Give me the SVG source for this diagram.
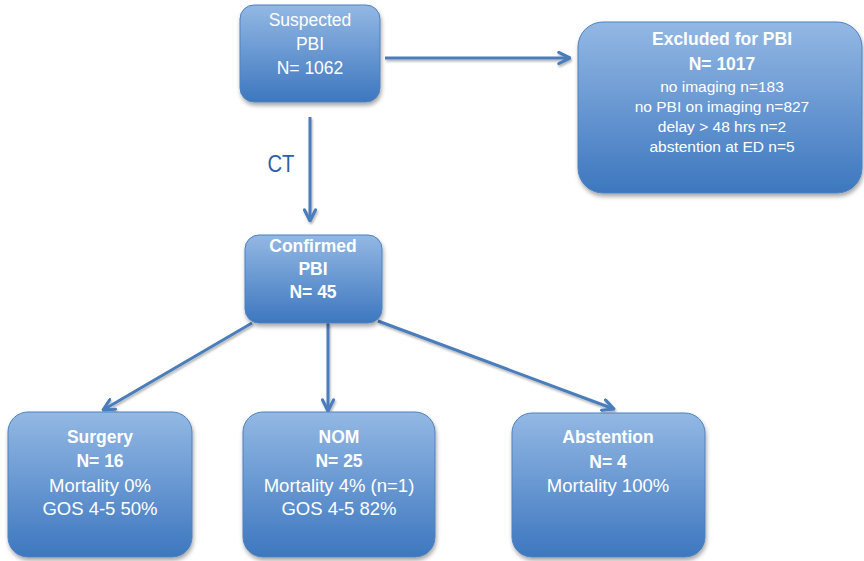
<svg xmlns="http://www.w3.org/2000/svg" width="864" height="561" viewBox="0 0 864 561">
<defs>
<linearGradient id="g" x1="0" y1="0" x2="0" y2="1">
<stop offset="0" stop-color="#93b8e4"/>
<stop offset="1" stop-color="#3d77bf"/>
</linearGradient>
<filter id="sh" x="-10%" y="-10%" width="125%" height="130%">
<feDropShadow dx="1" dy="3" stdDeviation="2" flood-color="#000" flood-opacity="0.35"/>
</filter>
<filter id="lsh" filterUnits="userSpaceOnUse" x="0" y="0" width="864" height="561">
<feDropShadow dx="1" dy="2" stdDeviation="1.2" flood-color="#000" flood-opacity="0.3"/>
</filter>
<marker id="arr" viewBox="0 0 10 10" refX="9" refY="5" markerWidth="14" markerHeight="14" markerUnits="userSpaceOnUse" orient="auto">
<path d="M1,1 L9,5 L1,9" fill="none" stroke="#4a7dbc" stroke-width="2.2" stroke-linecap="round" stroke-linejoin="round"/>
</marker>
</defs>
<style>
.box{fill:url(#g);stroke:#4f81bd;stroke-width:1;filter:url(#sh)}
.t{font-family:"Liberation Sans",Arial,sans-serif;fill:#fff;text-anchor:middle}
.b{font-weight:bold;font-size:17.5px}
.n{font-size:18.5px}
.s{font-size:15.5px}
.c{stroke:#4a7dbc;stroke-width:3;fill:none;marker-end:url(#arr)}
.lbl{font-family:"Liberation Sans",Arial,sans-serif;fill:#2f5ea8;font-size:24px;text-anchor:middle}
</style>
<g id="connectors" filter="url(#lsh)">
<path class="c" d="M385,58 L570,58"/>
<path class="c" d="M310,117 L310,221"/>
<path class="c" d="M252,323 L103,410"/>
<path class="c" d="M328,323 L328,411"/>
<path class="c" d="M378,321 L614,409"/>
</g>
<text class="lbl" x="281" y="172" textLength="27" lengthAdjust="spacingAndGlyphs">CT</text>
<g id="suspected">
<rect class="box" x="240" y="5" width="140" height="97" rx="14"/>
<text class="t" x="310" y="26" font-size="17.5">Suspected</text>
<text class="t" x="310" y="50" font-size="17.5">PBI</text>
<text class="t" x="310" y="74" font-size="17.5">N= 1062</text>
</g>
<g id="excluded">
<rect class="box" x="578" y="22" width="284" height="171" rx="25"/>
<text class="t b" x="722" y="45">Excluded for PBI</text>
<text class="t b" x="722" y="70">N= 1017</text>
<text class="t s" x="722" y="92">no imaging n=183</text>
<text class="t s" x="722" y="112">no PBI on imaging n=827</text>
<text class="t s" x="722" y="132">delay &gt; 48 hrs n=2</text>
<text class="t s" x="722" y="152">abstention at ED n=5</text>
</g>
<g id="confirmed">
<rect class="box" x="245" y="235" width="137" height="88" rx="14"/>
<text class="t b" x="313" y="252">Confirmed</text>
<text class="t b" x="313" y="275">PBI</text>
<text class="t b" x="313" y="298">N= 45</text>
</g>
<g id="surgery">
<rect class="box" x="8" y="412" width="184" height="145" rx="20"/>
<text class="t b" x="100" y="443">Surgery</text>
<text class="t b" x="100" y="467">N= 16</text>
<text class="t n" x="100" y="492">Mortality 0%</text>
<text class="t n" x="100" y="515">GOS 4-5 50%</text>
</g>
<g id="nom">
<rect class="box" x="243" y="412" width="192" height="145" rx="20"/>
<text class="t b" x="339" y="443">NOM</text>
<text class="t b" x="339" y="467">N= 25</text>
<text class="t n" x="339" y="492">Mortality 4% (n=1)</text>
<text class="t n" x="339" y="515">GOS 4-5 82%</text>
</g>
<g id="abstention">
<rect class="box" x="512" y="413" width="193" height="144" rx="20"/>
<text class="t b" x="608" y="443">Abstention</text>
<text class="t b" x="608" y="468">N= 4</text>
<text class="t n" x="608" y="492">Mortality 100%</text>
</g>
</svg>
